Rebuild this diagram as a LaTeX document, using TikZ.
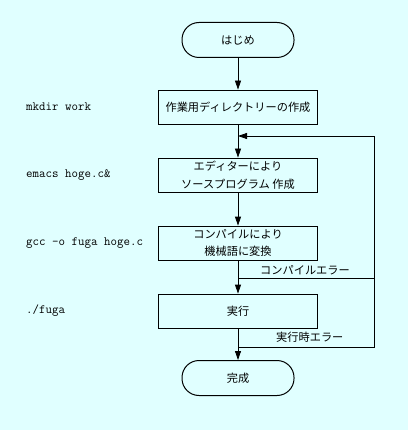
\documentclass[tikz,border=0pt]{standalone}
\usepackage{fontspec}
\newfontfamily\jp{Noto Sans CJK JP}
\usetikzlibrary{arrows.meta}
\definecolor{bgcyan}{RGB}{224,255,255}
\begin{document}
\begin{tikzpicture}[x=1pt,y=-1pt,
  proc/.style={draw,line width=0.8pt,minimum width=159pt,minimum height=34pt,inner sep=0pt,align=center,font=\jp\fontsize{11.2}{17.5}\selectfont},
  term/.style={draw,line width=1pt,rounded corners=17pt,minimum width=112pt,minimum height=35pt,inner sep=0pt,font=\jp\fontsize{11.2}{14}\selectfont},
  cmd/.style={anchor=west,inner sep=0pt,font=\ttfamily\fontsize{12.6}{14}\selectfont},
  lbl/.style={anchor=west,inner sep=0pt,font=\jp\fontsize{11.2}{14}\selectfont},
  flow/.style={line width=0.8pt,-{Triangle[length=9pt,width=6pt]}},
  line/.style={line width=0.8pt}]
\fill[bgcyan] (0,0) rectangle (408,430);
\useasboundingbox (0,0) rectangle (408,430);
\node[term] (start) at (238,40) {はじめ};
\node[proc] (p1) at (238,107) {作業用ディレクトリーの作成};
\node[proc] (p2) at (238,175) {エディターにより\\ソースプログラム 作成};
\node[proc] (p3) at (238,243) {コンパイルにより\\機械語に変換};
\node[proc] (p4) at (238,311) {実行};
\node[term] (end) at (238,378) {完成};
\node[cmd] (c1) at (26,107) {mkdir work};
\node[cmd] (c2) at (26,175) {emacs hoge.c\&};
\node[cmd] (c3) at (26,243) {gcc -o fuga hoge.c};
\node[cmd] (c4) at (26,311) {./fuga};
\coordinate (m1) at (238,136);
\coordinate (m2) at (238,278);
\coordinate (m3) at (238,347);
\coordinate (r1) at (374,136);
\coordinate (r2) at (374,278);
\coordinate (r3) at (374,347);
\draw[flow] (start) -- (p1);
\draw[flow] (p1) -- (p2);
\draw[flow] (p2) -- (p3);
\draw[flow] (p3) -- (p4);
\draw[flow] (p4) -- (end);
\draw[line] (m2) -- (r2);
\draw[line] (m3) -- (r3) -- (r1);
\draw[flow] (r1) -- (m1);
\node[lbl] (e1) at (260,270) {コンパイルエラー};
\node[lbl] (e2) at (276,337) {実行時エラー};
\end{tikzpicture}
\end{document}
